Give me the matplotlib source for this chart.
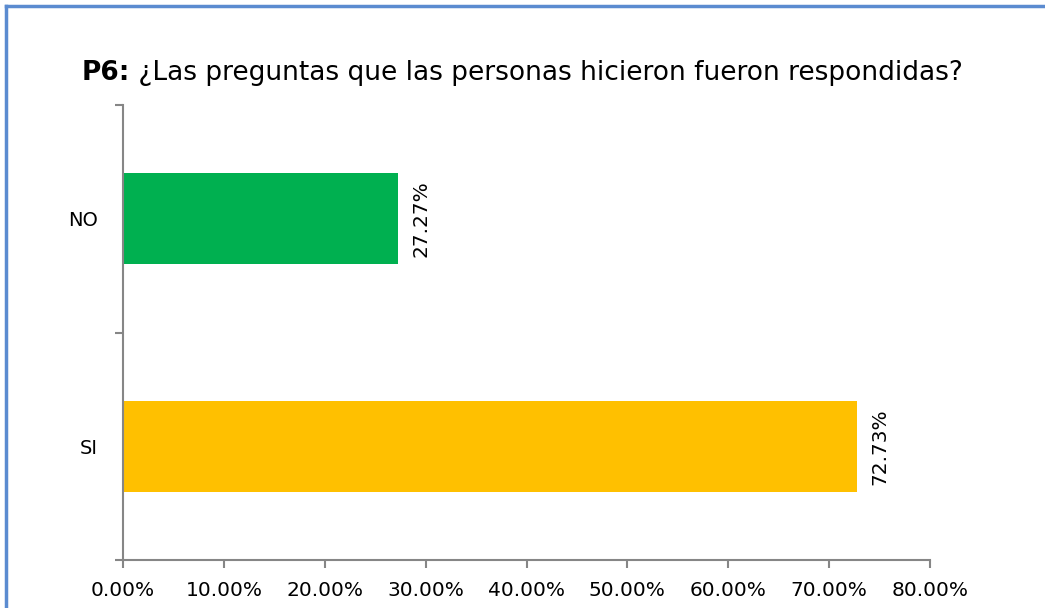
import matplotlib
matplotlib.use('Agg')
from matplotlib import pyplot as plt
from matplotlib.lines import Line2D

# survey answers for P6
categories = ['SI', 'NO']
values = [72.73, 27.27]
bar_colors = ['#FFC000', '#00B050']
xticks = [0, 10, 20, 30, 40, 50, 60, 70, 80]
title_bold = 'P6:'
title_rest = ' ¿Las preguntas que las personas hicieron fueron respondidas?'

plt.rcParams['font.family'] = ['DejaVu Sans']

fig = plt.figure(figsize=(10.45, 6.08), dpi=100)
ax = fig.add_axes([123/1045, 1-560/608, (930-123)/1045, (560-105)/608])

ypos = list(range(len(categories)))
ax.barh(ypos, values, height=0.4, color=bar_colors)

for y, v in zip(ypos, values):
    ax.annotate('%.2f%%' % v, xy=(v, y), xytext=(10, 0), textcoords='offset points',
                rotation=90, ha='left', va='center', fontsize=14.5, color='black')

ax.set_xlim(0, 80)
ax.set_ylim(-0.5, 1.5)
ax.set_xticks(xticks)
ax.set_xticklabels(['%.2f%%' % t for t in xticks], fontsize=14.5)
ax.set_yticks(ypos)
ax.set_yticklabels(categories, fontsize=14)
ax.set_yticks([-0.5, 0.5, 1.5], minor=True)
ax.tick_params(axis='y', which='major', length=0, pad=18)
ax.tick_params(axis='y', which='minor', length=6, color='#868686', width=1.5)
ax.tick_params(axis='x', length=6, color='#868686', width=1.5, pad=9)

for s in ['top', 'right']:
    ax.spines[s].set_visible(False)
for s in ['left', 'bottom']:
    ax.spines[s].set_color('#868686')
    ax.spines[s].set_linewidth(1.5)

# title: bold prefix + normal rest, centred together
renderer = fig.canvas.get_renderer()
t1 = fig.text(0, 1-73/608, title_bold, fontsize=19, fontweight='bold', va='center')
t2 = fig.text(0, 1-73/608, title_rest, fontsize=19, va='center')
w1 = t1.get_window_extent(renderer).width
w2 = t2.get_window_extent(renderer).width
x0 = (1045 - w1 - w2) / 2
t1.set_x(x0 / 1045)
t2.set_x((x0 + w1) / 1045)

# chart frame (left + top edges visible)
fig.add_artist(Line2D([6/1045, 6/1045], [0, 1-6/608], color='#5B8BD0', lw=2.5, transform=fig.transFigure))
fig.add_artist(Line2D([6/1045, 1], [1-6/608, 1-6/608], color='#5B8BD0', lw=2.5, transform=fig.transFigure))

fig.savefig('out.png', dpi=100)
